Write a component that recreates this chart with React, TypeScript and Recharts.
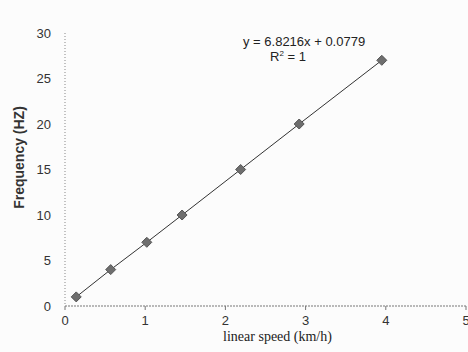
import { LineChart, Line, XAxis, YAxis } from "recharts";

const speeds = [0.14, 0.57, 1.02, 1.46, 2.19, 2.92, 3.95];
const frequencies = [1, 4, 7, 10, 15, 20, 27];
const xTicks = [0, 1, 2, 3, 4, 5];
const yTicks = [0, 5, 10, 15, 20, 25, 30];

const points = speeds.map((s, i) => ({ speed: s, freq: frequencies[i] }));

const tickFont = { fontFamily: "'Liberation Sans Narrow', 'Liberation Sans', sans-serif", fontSize: 13, fill: "#333" };

function Diamond(props: any) {
  const { cx, cy } = props;
  if (cx == null || cy == null) return null;
  const r = 5;
  return (
    <polygon
      points={`${cx},${cy - r} ${cx + r},${cy} ${cx},${cy + r} ${cx - r},${cy}`}
      fill="#6e6e6e"
      stroke="#555"
      strokeWidth={1}
    />
  );
}

export default function App() {
  return (
    <div style={{ position: "absolute", left: 0, top: 0, width: 468, height: 352, overflow: "hidden", background: "#fcfcfc" }}>
      <LineChart width={480} height={352} data={points} margin={{ top: 33, right: 14, bottom: 10, left: 0 }}>
        <XAxis
          type="number"
          dataKey="speed"
          domain={[0, 5]}
          ticks={xTicks}
          interval={0}
          height={36}
          tick={tickFont}
          tickSize={4}
          tickMargin={6}
          stroke="#777"
          axisLine={{ stroke: "#777", strokeDasharray: "2 1" }}
          tickLine={{ stroke: "#777" }}
          label={{
            value: "linear speed (km/h)",
            position: "insideBottom",
            offset: 1,
            dx: 12,
            style: { fontFamily: "'Liberation Serif', serif", fontSize: 14, fill: "#222" },
          }}
        />
        <YAxis
          type="number"
          domain={[0, 30]}
          ticks={yTicks}
          interval={0}
          width={65}
          tick={tickFont}
          tickLine={false}
          tickSize={6}
          tickMargin={8}
          axisLine={{ stroke: "#888", strokeDasharray: "1 2" }}
          label={{
            value: "Frequency (HZ)",
            angle: -90,
            position: "insideLeft",
            offset: 19,
            dy: -12,
            style: { textAnchor: "middle", fontFamily: "'Liberation Sans Narrow', 'Liberation Sans', sans-serif", fontSize: 14, fontWeight: "bold", fill: "#333" },
          }}
        />
        <Line
          type="linear"
          dataKey="freq"
          stroke="#333"
          strokeWidth={1}
          dot={<Diamond />}
          activeDot={false}
          isAnimationActive={false}
        />
      </LineChart>
      <div style={{ position: "absolute", left: 243, top: 34, fontFamily: "'Liberation Sans Narrow', 'Liberation Sans', sans-serif", fontSize: 13, color: "#222", whiteSpace: "nowrap" }}>
        y = 6.8216x + 0.0779
      </div>
      <div style={{ position: "absolute", left: 270, top: 49, fontFamily: "'Liberation Sans Narrow', 'Liberation Sans', sans-serif", fontSize: 13, color: "#222", whiteSpace: "nowrap" }}>
        R<sup style={{ fontSize: 8 }}>2</sup> = 1
      </div>
    </div>
  );
}
